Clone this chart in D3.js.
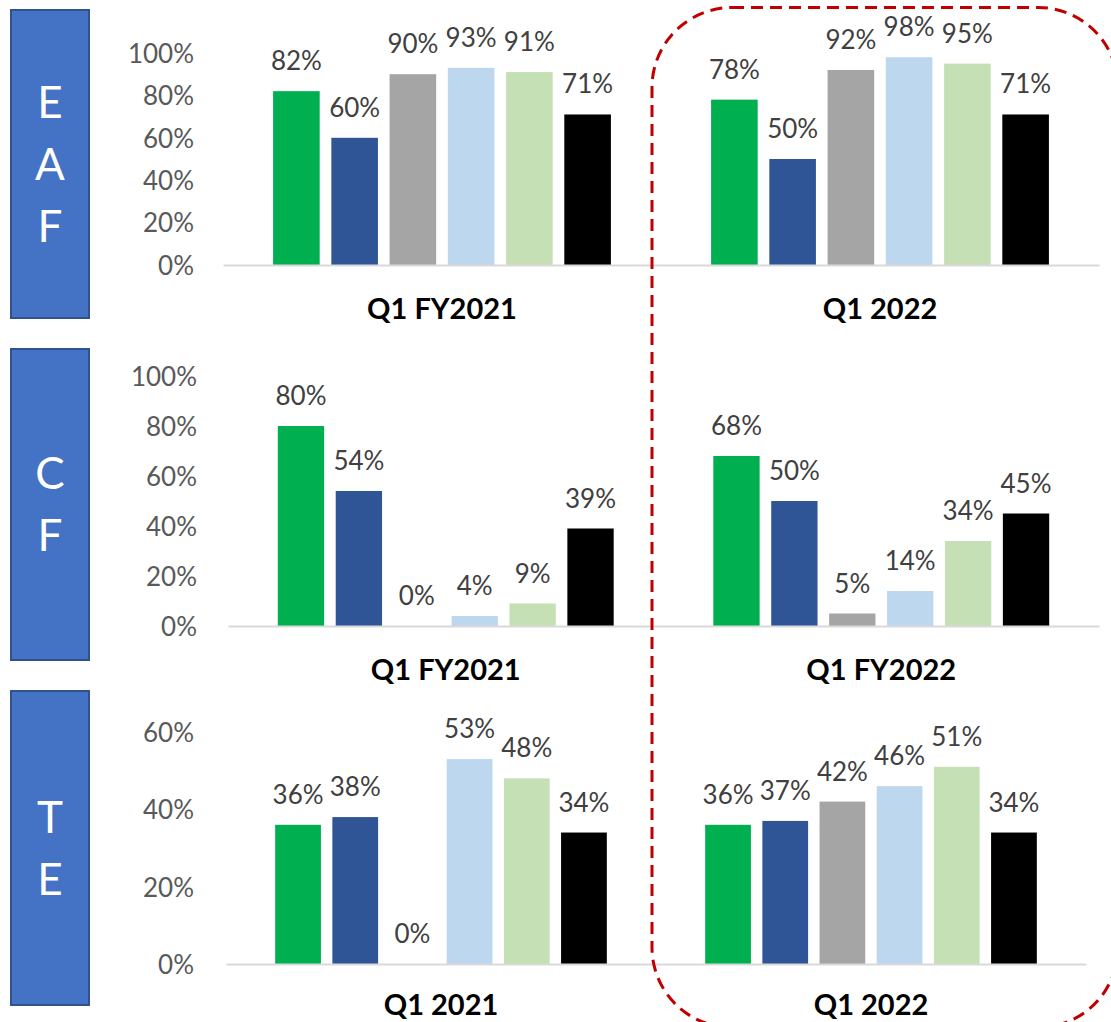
<!DOCTYPE html>
<html>
<head>
<meta charset="utf-8">
<script src="https://cdn.jsdelivr.net/npm/d3@7"></script>
<style>
  html, body { margin: 0; padding: 0; background: #ffffff; }
  svg { display: block; }
</style>
</head>
<body>
<div id="chart"></div>
<script>
// Six series per period, shown as grouped bars
const seriesColors = ["#00B050", "#2F5597", "#A5A5A5", "#BDD7EE", "#C5E0B4", "#000000"];

// EAF
const eafLetters = ["E", "A", "F"];
const eafCategories = ["Q1 FY2021", "Q1 2022"];
const eafFirst = [0.82, 0.60, 0.90, 0.93, 0.91, 0.71];
const eafSecond = [0.78, 0.50, 0.92, 0.98, 0.95, 0.71];
const eafTicks = [0, 0.2, 0.4, 0.6, 0.8, 1.0];

// CF
const cfLetters = ["C", "F"];
const cfCategories = ["Q1 FY2021", "Q1 FY2022"];
const cfFirst = [0.80, 0.54, 0.00, 0.04, 0.09, 0.39];
const cfSecond = [0.68, 0.50, 0.05, 0.14, 0.34, 0.45];
const cfTicks = [0, 0.2, 0.4, 0.6, 0.8, 1.0];

// TE
const teLetters = ["T", "E"];
const teCategories = ["Q1 2021", "Q1 2022"];
const teFirst = [0.36, 0.38, 0.00, 0.53, 0.48, 0.34];
const teSecond = [0.36, 0.37, 0.42, 0.46, 0.51, 0.34];
const teTicks = [0, 0.2, 0.4, 0.6];

const W = 1111, H = 1022;
const FONT = "Lato, 'Open Sans', 'Liberation Sans', sans-serif";

const svg = d3.select("#chart").append("svg")
  .attr("width", W).attr("height", H)
  .attr("viewBox", `0 0 ${W} ${H}`);

// Panel geometry for each row
const rows = [
  { letters: eafLetters, categories: eafCategories, values: [eafFirst, eafSecond], ticks: eafTicks,
    yMax: 1.0, xRange: [223, 1099], yRange: [265, 53], tickX: 194, box: [10, 318], catGap: 54 },
  { letters: cfLetters, categories: cfCategories, values: [cfFirst, cfSecond], ticks: cfTicks,
    yMax: 1.0, xRange: [228, 1099], yRange: [626, 376], tickX: 197, box: [349, 660], catGap: 54 },
  { letters: teLetters, categories: teCategories, values: [teFirst, teSecond], ticks: teTicks,
    yMax: 0.6, xRange: [226, 1086], yRange: [964, 732], tickX: 194, box: [691, 1005], catGap: 51 }
];

const pct = d3.format(".0%");

rows.forEach(row => {
  const g = svg.append("g");

  // Side label box
  g.append("rect")
    .attr("x", 11).attr("y", row.box[0])
    .attr("width", 78).attr("height", row.box[1] - row.box[0])
    .attr("fill", "#4472C4")
    .attr("stroke", "#2F528F").attr("stroke-width", 2);

  const boxMid = (row.box[0] + row.box[1]) / 2;
  const capH = 31;
  const lineGap = 62;
  const n = row.letters.length;
  g.selectAll("text.side").data(row.letters).join("text")
    .attr("class", "side")
    .attr("x", 50)
    .attr("y", (d, i) => boxMid + capH / 2 + (i - (n - 1) / 2) * lineGap)
    .attr("text-anchor", "middle")
    .attr("font-family", FONT)
    .attr("font-size", 44)
    .attr("fill", "#ffffff")
    .text(d => d);

  // Scales
  const x0 = d3.scaleBand().domain(row.categories).range(row.xRange).padding(0);
  const x1 = d3.scaleBand().domain(d3.range(seriesColors.length))
    .range([0, x0.bandwidth()]).paddingInner(0.2).paddingOuter(0.86);
  const y = d3.scaleLinear().domain([0, row.yMax]).range(row.yRange);

  // Value axis: tick labels only
  const yAxis = d3.axisLeft(y).tickValues(row.ticks).tickFormat(pct).tickSize(0).tickPadding(0);
  const ya = g.append("g")
    .attr("transform", `translate(${row.tickX},0)`)
    .call(yAxis);
  ya.select(".domain").remove();
  ya.selectAll("text")
    .attr("font-family", FONT)
    .attr("font-size", 26)
    .attr("fill", "#595959")
    .attr("dy", "0.36em");

  // Bars
  row.categories.forEach((cat, ci) => {
    const vals = row.values[ci];
    const cg = g.append("g").attr("transform", `translate(${x0(cat)},0)`);
    cg.selectAll("rect").data(vals).join("rect")
      .attr("x", (d, i) => x1(i))
      .attr("y", d => y(d))
      .attr("width", x1.bandwidth())
      .attr("height", d => y(0) - y(d))
      .attr("fill", (d, i) => seriesColors[i]);

    cg.selectAll("text.val").data(vals).join("text")
      .attr("class", "val")
      .attr("x", (d, i) => x1(i) + x1.bandwidth() / 2)
      .attr("y", d => y(d) - 21)
      .attr("text-anchor", "middle")
      .attr("font-family", FONT)
      .attr("font-size", 26)
      .attr("fill", "#404040")
      .text(d => pct(d));
  });

  // Category axis
  const xAxis = d3.axisBottom(x0).tickSize(0).tickPadding(0);
  const xa = g.append("g")
    .attr("transform", `translate(0,${y(0)})`)
    .call(xAxis);
  xa.select(".domain").attr("stroke", "#D9D9D9").attr("stroke-width", 2);
  xa.selectAll("text")
    .attr("font-family", FONT)
    .attr("font-size", 29)
    .attr("font-weight", "bold")
    .attr("fill", "#000000")
    .attr("dy", 0)
    .attr("y", row.catGap);
});

// Highlight frame around the latest period
svg.append("rect")
  .attr("x", 652).attr("y", 7.5)
  .attr("width", 466).attr("height", 1020)
  .attr("rx", 80).attr("ry", 80)
  .attr("fill", "none")
  .attr("stroke", "#C00000")
  .attr("stroke-width", 3)
  .attr("stroke-dasharray", "12 7");
</script>
</body>
</html>
